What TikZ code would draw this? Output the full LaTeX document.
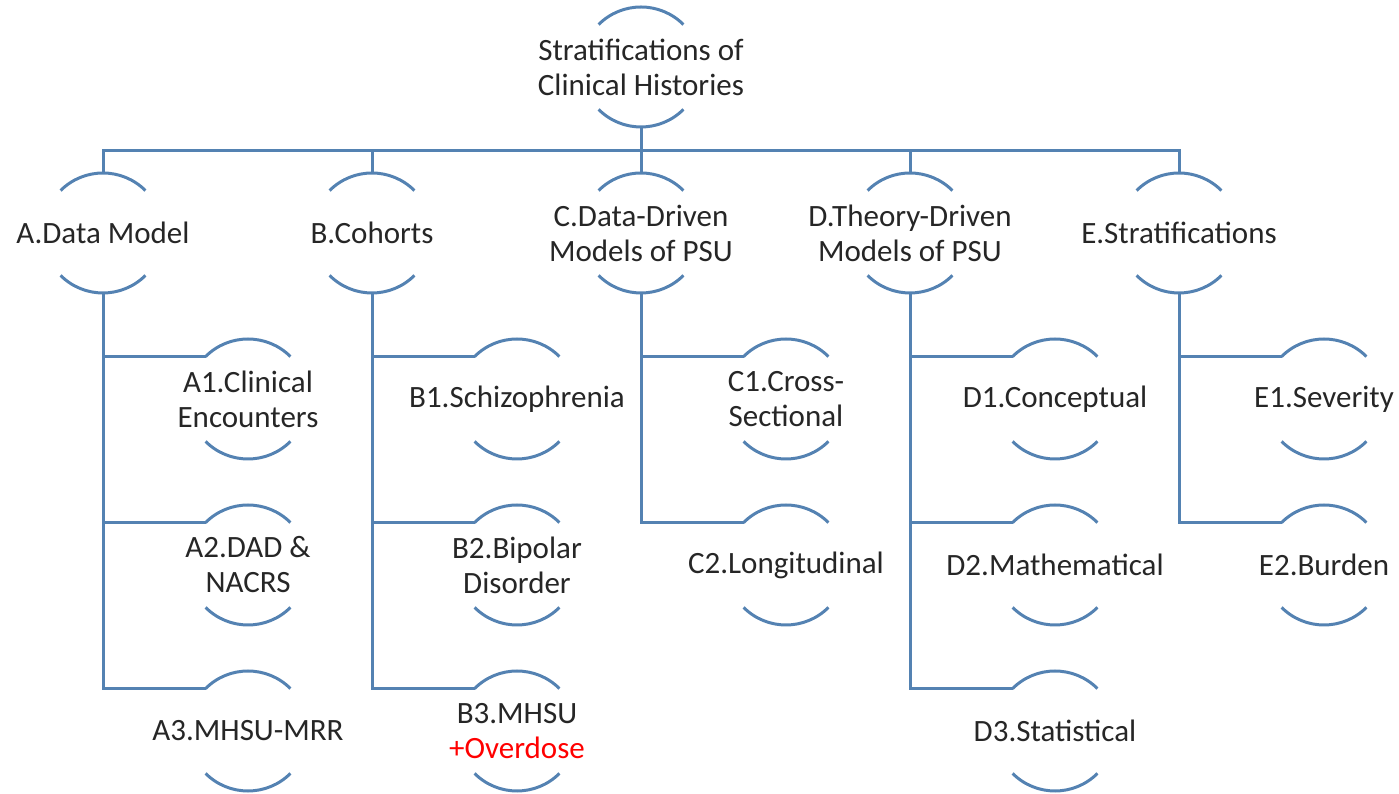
\documentclass[tikz,border=0pt]{standalone}
\usepackage{fontspec}
\setmainfont{Carlito}
\begin{document}
\begin{tikzpicture}[x=1pt,y=1pt,
  hn/.style={circle, minimum size=120pt, inner sep=0pt, outer sep=0pt,
    label={[txt]center:#1}},
  txt/.style={align=center, text=black!85, font=\fontsize{31}{35}\selectfont, inner sep=0pt},
  arcline/.style={draw=lineblue, line width=3pt},
  conn/.style={draw=lineblue, line width=3pt}]
\definecolor{lineblue}{RGB}{84,130,178}
\useasboundingbox (0,0) rectangle (1399,794);
% nodes
\node[hn={Stratifications of\\Clinical Histories}] (root) at (641,727) {};
\node[hn={A.Data Model}] (A) at (103,561) {};
\node[hn={B.Cohorts}] (B) at (372,561) {};
\node[hn={C.Data-Driven\\Models of PSU}] (C) at (641,561) {};
\node[hn={D.Theory-Driven\\Models of PSU}] (D) at (910,561) {};
\node[hn={E.Stratifications}] (E) at (1179,561) {};
\node[hn={A1.Clinical\\Encounters}] (A1) at (248,395) {};
\node[hn={A2.DAD \&\\NACRS}] (A2) at (248,229) {};
\node[hn={A3.MHSU-MRR}] (A3) at (248,63) {};
\node[hn={B1.Schizophrenia}] (B1) at (517,395) {};
\node[hn={B2.Bipolar\\Disorder}] (B2) at (517,229) {};
\node[hn={B3.MHSU\\\textcolor{red}{+Overdose}}] (B3) at (517,63) {};
\node[hn={C1.Cross-\\Sectional}] (C1) at (786,395) {};
\node[hn={C2.Longitudinal}] (C2) at (786,229) {};
\node[hn={D1.Conceptual}] (D1) at (1055,395) {};
\node[hn={D2.Mathematical}] (D2) at (1055,229) {};
\node[hn={D3.Statistical}] (D3) at (1055,63) {};
\node[hn={E1.Severity}] (E1) at (1324,395) {};
\node[hn={E2.Burden}] (E2) at (1324,229) {};
% arcs
\foreach \n in {root,A,B,C,D,E,A1,A2,A3,B1,B2,B3,C1,C2,D1,D2,D3,E1,E2}
  \draw[arcline] (\n.135) arc[start angle=135,end angle=45,radius=60pt]
                 (\n.225) arc[start angle=225,end angle=315,radius=60pt];
% connectors
\coordinate (bus) at (641,643);
\draw[conn] (root.south) -- (bus);
\draw[conn] (A.north) |- (bus) -| (E.north);
\foreach \n in {B,C,D} \draw[conn] (\n.north) -- (\n.north |- bus);
\foreach \p/\c in {A/A1,A/A2,A/A3,B/B1,B/B2,B/B3,C/C1,C/C2,D/D1,D/D2,D/D3,E/E1,E/E2}
  \draw[conn] (\p.south) |- (\c.135);
\end{tikzpicture}
\end{document}
